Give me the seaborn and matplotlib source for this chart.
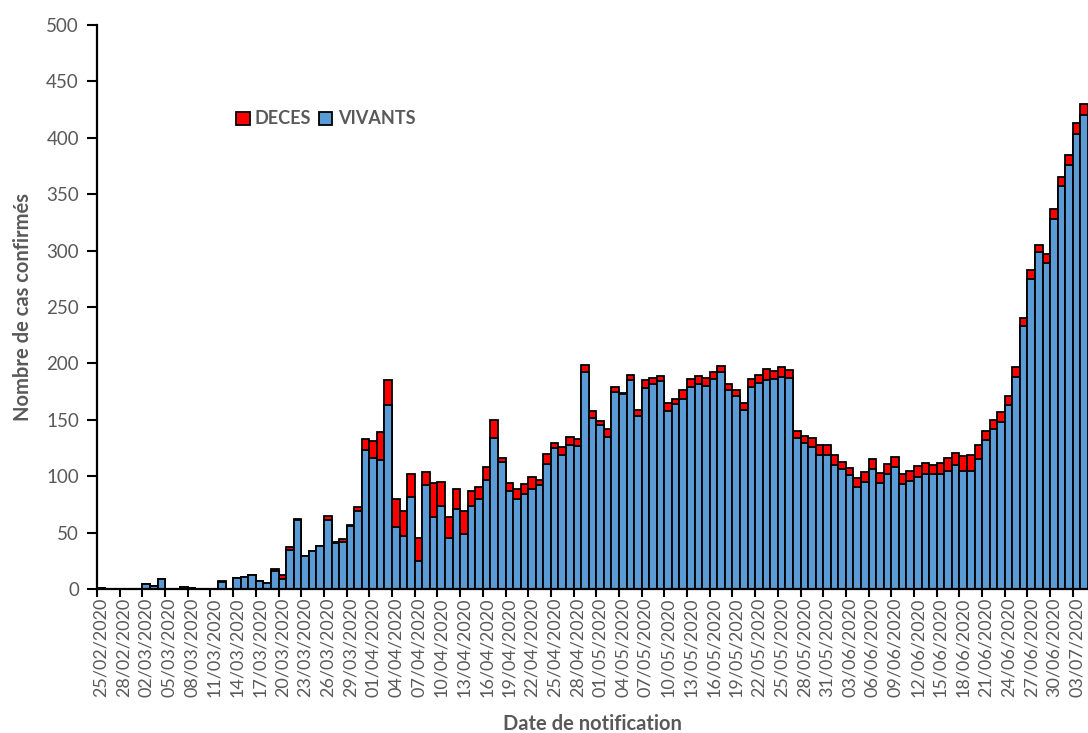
import matplotlib
matplotlib.use("Agg")
import matplotlib.pyplot as plt
import seaborn as sns
import pandas as pd
import numpy as np
from matplotlib.patches import Patch

# ---- data ----
dates = list(pd.date_range("2020-02-25", "2020-07-04").strftime("%d/%m/%Y"))

vivants = [1, 0, 0, 0, 0, 0, 4, 3, 9, 0,
           0, 2, 1, 0, 0, 0, 6, 0, 10, 11,
           12, 7, 5, 16, 9, 35, 61, 29, 34, 38,
           61, 41, 42, 56, 69, 123, 116, 114, 163, 55,
           47, 82, 25, 92, 64, 74, 45, 71, 49, 74,
           80, 97, 134, 113, 87, 80, 84, 89, 92, 111,
           125, 119, 128, 127, 192, 152, 145, 135, 175, 173,
           185, 153, 178, 182, 184, 158, 164, 168, 179, 182,
           180, 186, 192, 176, 171, 159, 179, 183, 185, 186,
           188, 187, 134, 129, 126, 119, 119, 110, 106, 101,
           90, 95, 106, 94, 102, 108, 93, 96, 99, 102,
           102, 102, 105, 110, 105, 105, 115, 132, 142, 148,
           163, 188, 233, 275, 299, 289, 328, 357, 376, 403,
           420]

deces = [0, 0, 0, 0, 0, 0, 0, 0, 0, 0,
         0, 0, 0, 0, 0, 0, 1, 0, 0, 0,
         0, 0, 0, 2, 3, 2, 1, 0, 0, 0,
         4, 1, 2, 1, 4, 10, 15, 25, 22, 25,
         22, 20, 20, 12, 30, 21, 19, 18, 20, 13,
         10, 11, 16, 3, 7, 9, 9, 10, 5, 9,
         4, 7, 7, 6, 7, 6, 4, 7, 4, 1,
         5, 6, 7, 5, 5, 7, 4, 8, 7, 7,
         7, 6, 6, 6, 5, 6, 7, 7, 10, 7,
         9, 7, 6, 7, 8, 9, 9, 9, 7, 6,
         8, 9, 9, 9, 9, 9, 9, 9, 10, 10,
         8, 10, 11, 11, 13, 14, 13, 8, 8, 9,
         8, 9, 7, 8, 6, 8, 9, 8, 9, 10,
         10]

yticks = list(range(0, 501, 50))

BLUE = "#5B9BD5"
RED = "#FF0000"
GREY = "#595959"

df = pd.DataFrame({"date": dates, "vivants": vivants, "deces": deces})
df["total"] = df["vivants"] + df["deces"]

# ---- style ----
sns.set_theme(style="white")
plt.rcParams["font.family"] = ["Lato", "DejaVu Sans"]

fig = plt.figure(figsize=(10.88, 7.33), dpi=100)
ax = fig.add_axes([97 / 1088, 144 / 733, (1088 - 97) / 1088, 564 / 733])

sns.barplot(data=df, x="date", y="total", order=dates, color=RED, saturation=1,
            width=1.0, edgecolor="black", linewidth=1.3, errorbar=None, ax=ax)
sns.barplot(data=df, x="date", y="vivants", order=dates, color=BLUE, saturation=1,
            width=1.0, edgecolor="black", linewidth=1.3, errorbar=None, ax=ax)

n = len(dates)
ax.set_xlim(-0.5, n - 0.5)
ax.set_ylim(0, 500)
ax.set_yticks(yticks)
ax.set_yticklabels([str(v) for v in yticks])

major = list(range(0, n, 3))
ax.set_xticks(major)
ax.set_xticklabels([dates[i] for i in major], rotation=90)
ax.set_xticks(np.arange(-0.5, n, 3), minor=True)

ax.tick_params(axis="x", which="major", length=0, pad=6, labelsize=13,
               labelcolor=GREY, bottom=True)
ax.tick_params(axis="x", which="minor", length=6, width=1.5, color="black",
               direction="out", bottom=True)
ax.tick_params(axis="y", length=7, width=1.5, color="black", direction="out",
               labelsize=13.5, labelcolor=GREY, pad=6, left=True)

for s in ["top", "right"]:
    ax.spines[s].set_visible(False)
for s in ["left", "bottom"]:
    ax.spines[s].set_color("black")
    ax.spines[s].set_linewidth(1.6)

ax.set_ylabel("Nombre de cas confirmés", fontsize=14.5, fontweight="bold", color=GREY)
ax.yaxis.set_label_coords(-64 / 991, 0.5)
ax.set_xlabel("Date de notification", fontsize=14.5, fontweight="bold", color=GREY)
ax.xaxis.set_label_coords(0.5, (589 - 714) / 564)

handles = [Patch(facecolor=RED, edgecolor="black", linewidth=1.3),
           Patch(facecolor=BLUE, edgecolor="black", linewidth=1.3)]
fig.legend(handles, ["DECES", "VIVANTS"], loc="center left",
           bbox_to_anchor=(236 / 1088, 1 - 119 / 733), ncol=2, frameon=False,
           handlelength=0.75, handleheight=0.75, handletextpad=0.3,
           columnspacing=0.4, borderpad=0, borderaxespad=0,
           prop={"weight": "bold", "size": 13}, labelcolor=GREY)

fig.savefig("out.png", dpi=100)
